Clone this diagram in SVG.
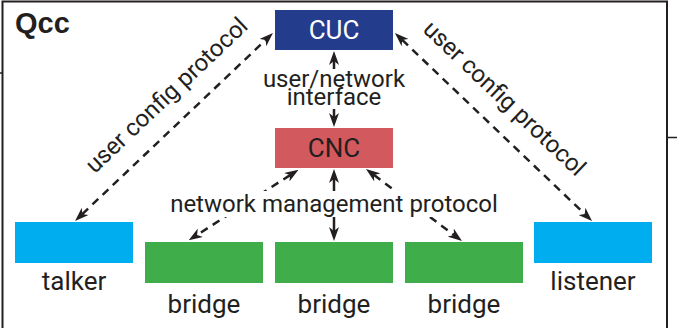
<svg xmlns="http://www.w3.org/2000/svg" width="677" height="328" viewBox="0 0 677 328">
  <defs>
    <marker id="head" viewBox="0 0 14 10" refX="4" refY="5" markerWidth="14" markerHeight="10" markerUnits="userSpaceOnUse" orient="auto-start-reverse">
      <path d="M0,0 L14,5 L0,10 L4,5 Z" fill="#231f20"/>
    </marker>
    <style>
      .frame { fill: none; stroke: #231f20; stroke-width: 2; }
      .lbl { font-family: Roboto, "Liberation Sans", sans-serif; font-size: 24px; fill: #231f20; text-anchor: middle; }
      .node { font-size: 26px; }
      .title { font-family: "Liberation Sans", Arial, sans-serif; font-weight: bold; font-size: 29px; fill: #231f20; }
      .cuc { fill: #233c8c; }
      .cnc { fill: #d25a5f; }
      .host { fill: #00adef; }
      .bridge { fill: #3fae4a; }
      .dash { stroke: #231f20; stroke-width: 2.5; stroke-dasharray: 8 6; fill: none; marker-start: url(#head); marker-end: url(#head); }
      .solid { stroke: #231f20; stroke-width: 2.5; fill: none; marker-start: url(#head); marker-end: url(#head); }
      .mask { fill: #ffffff; }
    </style>
  </defs>

  <rect width="677" height="328" fill="#ffffff"/>

  <!-- enclosing frame and stubs of neighbouring lines -->
  <g id="frame">
    <path class="frame" d="M2.5,328 V1.5 H667 V328"/>
    <line x1="0" y1="73" x2="3" y2="73" stroke="#231f20" stroke-width="1.5"/>
    <line x1="667" y1="137.5" x2="677" y2="137.5" stroke="#231f20" stroke-width="1.5"/>
    <text class="title" x="15" y="33">Qcc</text>
  </g>

  <!-- connectors -->
  <g id="connectors">
    <line class="dash" x1="82.3" y1="214.1" x2="265.7" y2="39.9"/>
    <line class="dash" x1="402.2" y1="39.9" x2="584.8" y2="214.1"/>
    <line class="solid" x1="334" y1="61" x2="334" y2="117"/>
    <line class="dash" x1="290.1" y1="175.1" x2="197.1" y2="234.9"/>
    <line class="solid" x1="334" y1="179" x2="334" y2="231"/>
    <line class="dash" x1="374" y1="175" x2="454" y2="235"/>
  </g>

  <!-- connector labels; white panels break the lines behind them -->
  <g id="labels">
    <rect class="mask" x="256" y="69" width="156" height="40"/>
    <text class="lbl"><tspan x="334" y="86.5">user/network</tspan><tspan x="334" y="105">interface</tspan></text>
    <rect class="mask" x="166" y="191" width="336" height="26"/>
    <text class="lbl" x="334" y="212">network management protocol</text>
    <text class="lbl" transform="translate(172,101) rotate(-43.5)">user config protocol</text>
    <text class="lbl" transform="translate(499,104) rotate(43.5)">user config protocol</text>
  </g>

  <g id="cuc">
    <rect class="cuc" x="275" y="10" width="118" height="40"/>
    <text class="lbl node" x="334" y="39" style="fill:#ffffff">CUC</text>
  </g>

  <g id="cnc">
    <rect class="cnc" x="275" y="128" width="118" height="40"/>
    <text class="lbl node" x="334" y="157">CNC</text>
  </g>

  <g id="talker">
    <rect class="host" x="15" y="222" width="118" height="41"/>
    <text class="lbl node" x="74" y="290">talker</text>
  </g>

  <g id="listener">
    <rect class="host" x="534" y="222" width="118" height="41"/>
    <text class="lbl node" x="593" y="290">listener</text>
  </g>

  <g id="bridge1">
    <rect class="bridge" x="145" y="242" width="118" height="41"/>
    <text class="lbl node" x="204" y="313">bridge</text>
  </g>

  <g id="bridge2">
    <rect class="bridge" x="275" y="242" width="118" height="41"/>
    <text class="lbl node" x="334" y="313">bridge</text>
  </g>

  <g id="bridge3">
    <rect class="bridge" x="405" y="242" width="118" height="41"/>
    <text class="lbl node" x="464" y="313">bridge</text>
  </g>
</svg>
